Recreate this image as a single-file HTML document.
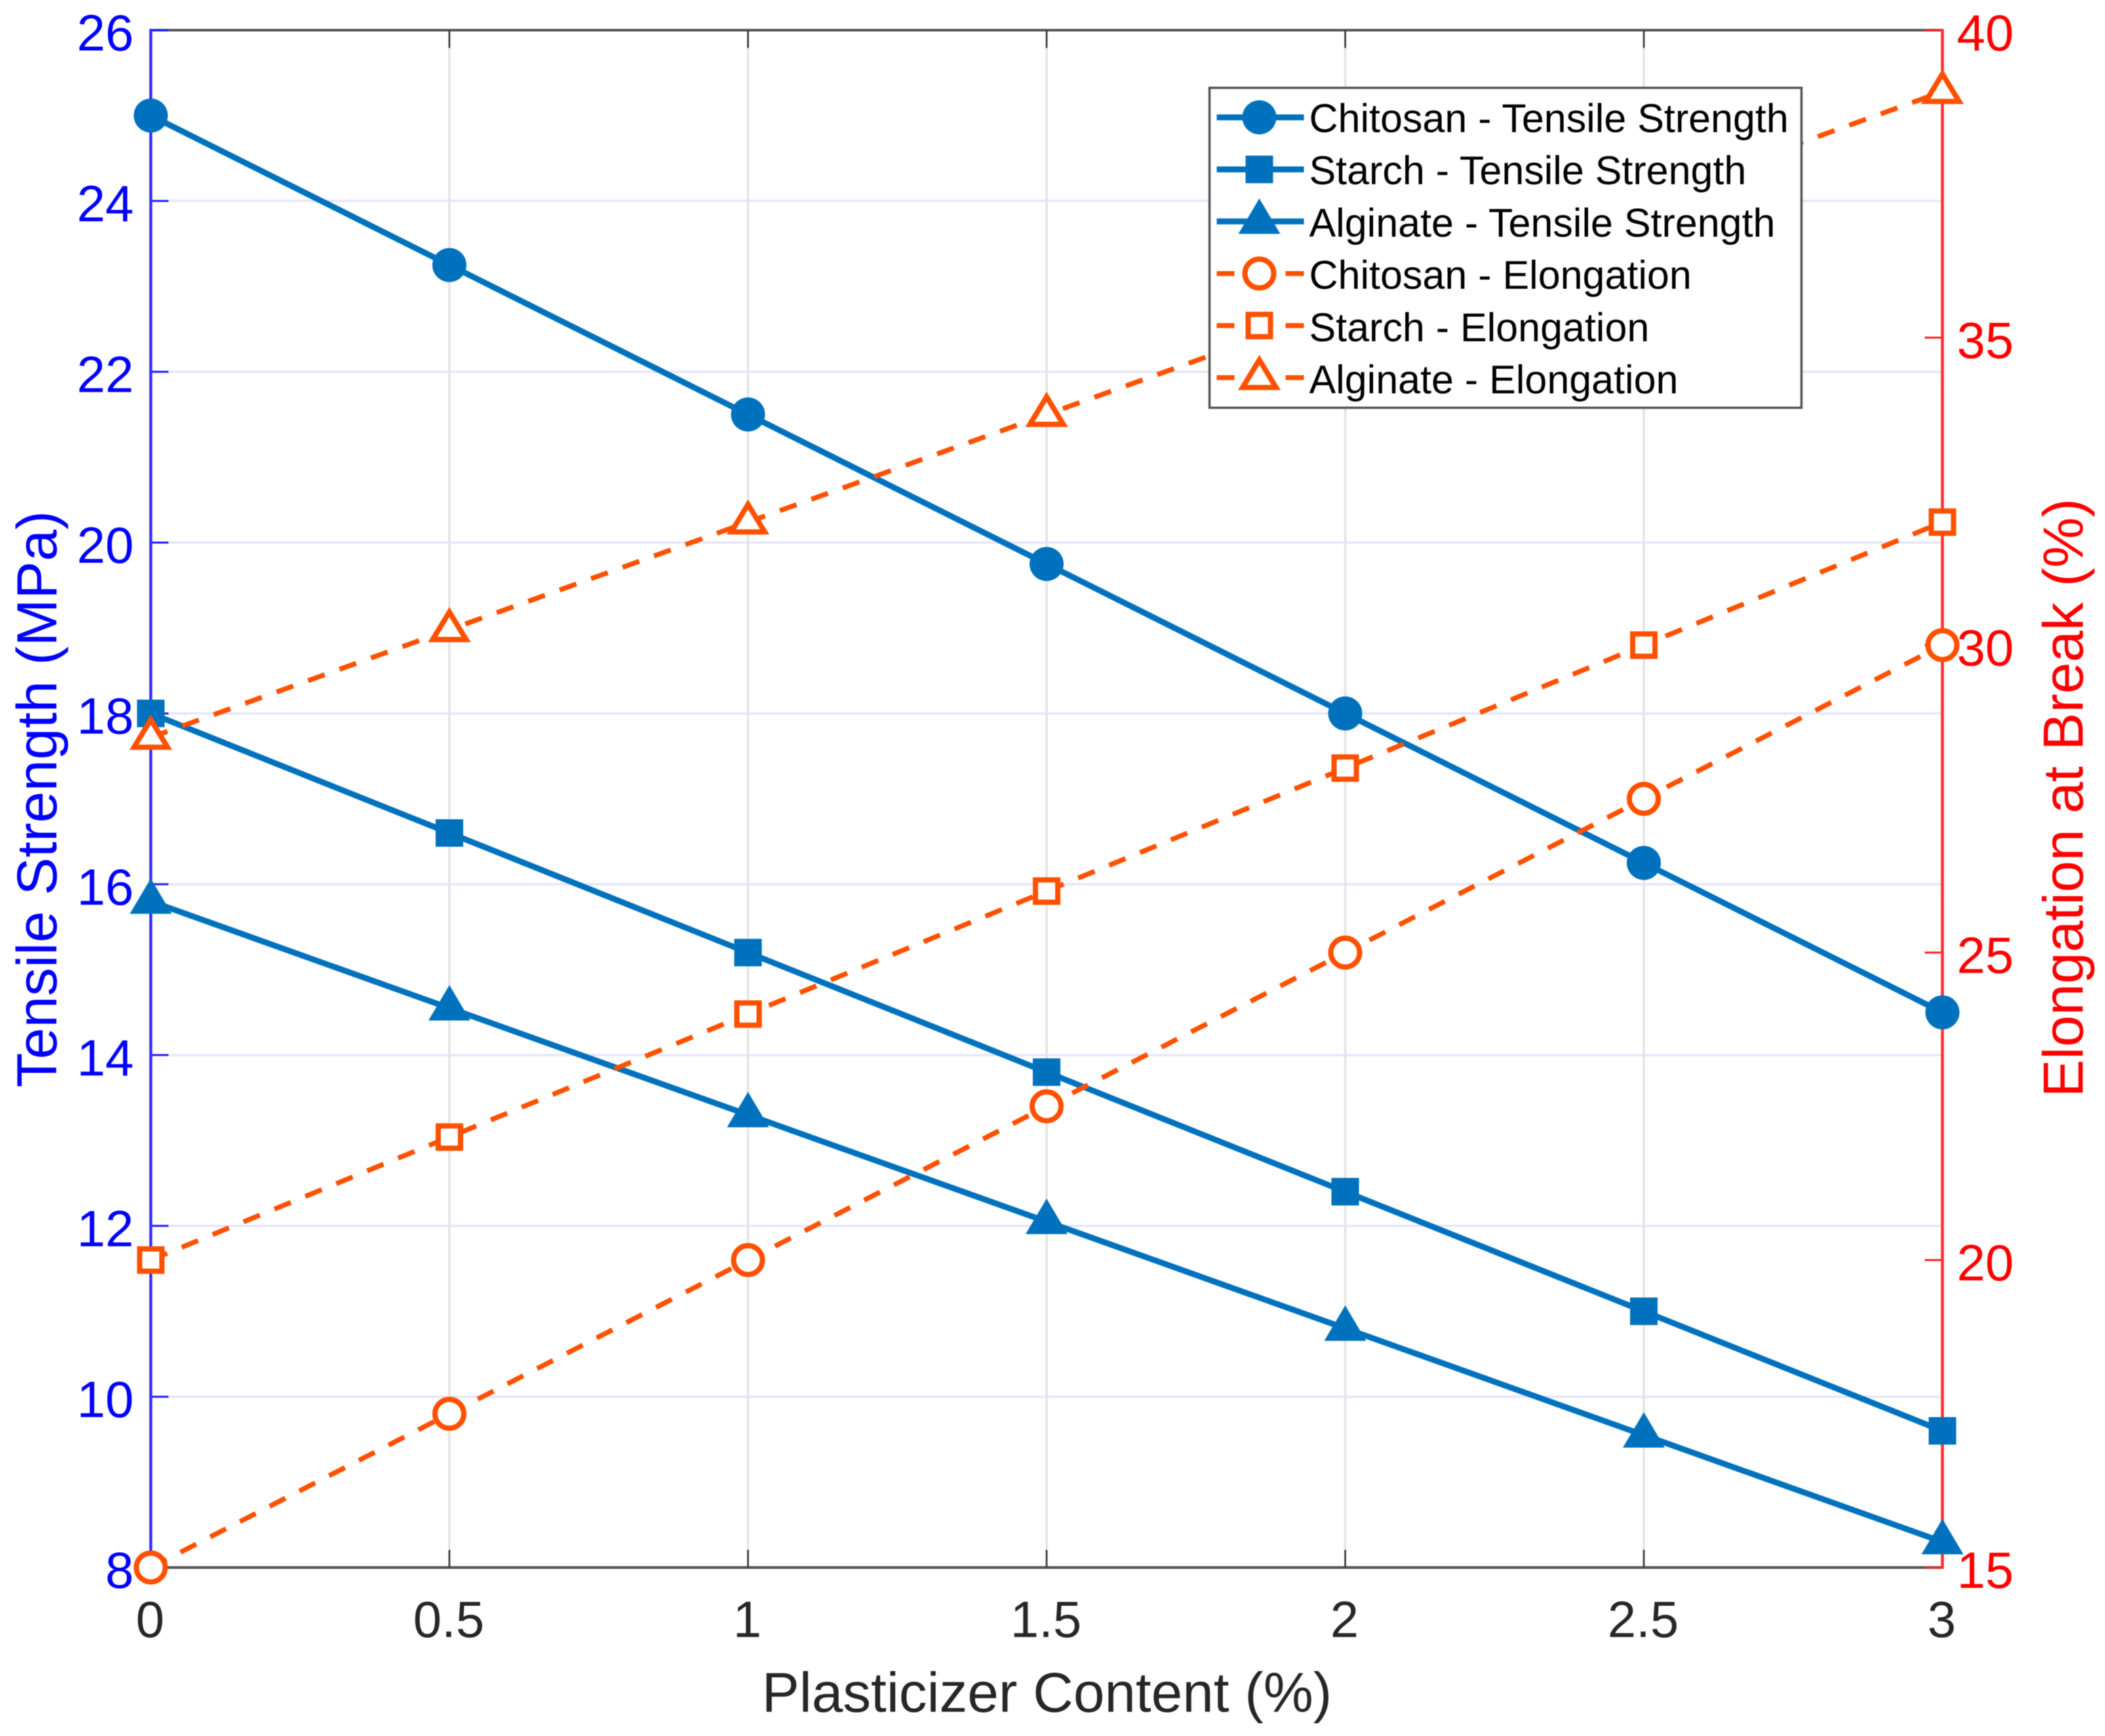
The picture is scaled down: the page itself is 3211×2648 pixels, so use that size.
<!DOCTYPE html>
<html lang="en">
<head>
<meta charset="utf-8">
<title>Tensile Strength and Elongation vs Plasticizer Content</title>
<style>
  html, body { margin: 0; padding: 0; background: #fff; }
  body { width: 3211px; height: 2648px; overflow: hidden; }
  svg { display: block; filter: blur(0.8px); }
  text { font-family: "Liberation Sans", Arial, sans-serif; }
</style>
</head>
<body>
<svg id="chart" xmlns="http://www.w3.org/2000/svg" width="3211" height="2648" viewBox="0 0 3211 2648">
  <rect x="0" y="0" width="3211" height="2648" fill="#ffffff"/>
  <g id="grid"></g>
  <g id="axes"></g>
  <g id="series-left"></g>
  <g id="series-right"></g>
  <g id="legend"></g>
</svg>
<script>
// ---- Data ----
const plasticizerContent = [0, 0.5, 1, 1.5, 2, 2.5, 3];
const chitosanTensile = [25, 23.25, 21.5, 19.75, 18, 16.25, 14.5];
const starchTensile = [18, 16.6, 15.2, 13.8, 12.4, 11, 9.6];
const alginateTensile = [15.8, 14.55, 13.3, 12.05, 10.8, 9.55, 8.3];
const chitosanElongation = [15, 17.5, 20, 22.5, 25, 27.5, 30];
const starchElongation = [20, 22, 24, 26, 28, 30, 32];
const alginateElongation = [28.5, 30.25, 32, 33.75, 35.5, 37.25, 39];
const xTickValues = [0, 0.5, 1, 1.5, 2, 2.5, 3];
const xTickLabels = ['0', '0.5', '1', '1.5', '2', '2.5', '3'];
const leftTickValues = [8, 10, 12, 14, 16, 18, 20, 22, 24, 26];
const leftTickLabels = ['8', '10', '12', '14', '16', '18', '20', '22', '24', '26'];
const rightTickValues = [15, 20, 25, 30, 35, 40];
const rightTickLabels = ['15', '20', '25', '30', '35', '40'];
const legendLabels = [
  'Chitosan - Tensile Strength',
  'Starch - Tensile Strength',
  'Alginate - Tensile Strength',
  'Chitosan - Elongation',
  'Starch - Elongation',
  'Alginate - Elongation'
];

// ---- Layout and axis functions ----
const NS = 'http://www.w3.org/2000/svg';
const plot = { left: 230, right: 2963, top: 46, bottom: 2391 };
const xDomain = [0, 3];
const leftDomain = [8, 26];
const rightDomain = [15, 40];
const BLUE = '#0072BD';
const ORANGE = '#FF5000';

function xScale(v) {
  return plot.left + (v - xDomain[0]) / (xDomain[1] - xDomain[0]) * (plot.right - plot.left);
}
function yLeft(v) {
  return plot.bottom - (v - leftDomain[0]) / (leftDomain[1] - leftDomain[0]) * (plot.bottom - plot.top);
}
function yRight(v) {
  return plot.bottom - (v - rightDomain[0]) / (rightDomain[1] - rightDomain[0]) * (plot.bottom - plot.top);
}
function el(tag, attrs, parent, content) {
  const node = document.createElementNS(NS, tag);
  for (const k in attrs) node.setAttribute(k, attrs[k]);
  if (content !== undefined) node.textContent = content;
  parent.appendChild(node);
  return node;
}
function drawMarker(parent, shape, filled, cx, cy, color, name) {
  const fill = filled ? color : '#ffffff';
  const sw = filled ? 0 : 8;
  let m;
  if (shape === 'circle') {
    m = el('circle', { cx: cx, cy: cy, r: filled ? 26 : 22, fill: fill, stroke: color, 'stroke-width': sw }, parent);
  } else if (shape === 'square') {
    const h = filled ? 21 : 17;
    m = el('rect', { x: cx - h, y: cy - h, width: 2 * h, height: 2 * h, fill: fill, stroke: color, 'stroke-width': sw }, parent);
  } else {
    const up = filled ? 35 : 27;
    const down = filled ? 19 : 15;
    const half = filled ? 32 : 25.5;
    const pts = (cx) + ',' + (cy - up) + ' ' + (cx + half) + ',' + (cy + down) + ' ' + (cx - half) + ',' + (cy + down);
    m = el('polygon', { points: pts, fill: fill, stroke: color, 'stroke-width': sw, 'stroke-linejoin': 'miter' }, parent);
  }
  
  
  return m;
}

// ---- Grid ----
const gridG = document.getElementById('grid');
leftTickValues.forEach(function (v) {
  if (v === leftDomain[0] || v === leftDomain[1]) return;
  const line = el('line', { x1: plot.left, x2: plot.right, y1: yLeft(v), y2: yLeft(v), stroke: '#E6E6FF', 'stroke-width': 3.5 }, gridG);
  
  
});
xTickValues.forEach(function (v) {
  if (v === xDomain[0] || v === xDomain[1]) return;
  const line = el('line', { x1: xScale(v), x2: xScale(v), y1: plot.top, y2: plot.bottom, stroke: '#E4E4E4', 'stroke-width': 3.5 }, gridG);
  
  
});

// ---- Axes ----
const axesG = document.getElementById('axes');
const topLine = el('line', { x1: plot.left, x2: plot.right, y1: plot.top, y2: plot.top, stroke: '#555555', 'stroke-width': 4 }, axesG);


const bottomLine = el('line', { x1: plot.left, x2: plot.right, y1: plot.bottom, y2: plot.bottom, stroke: '#555555', 'stroke-width': 4 }, axesG);



xTickValues.forEach(function (v, i) {
  const top = el('line', { x1: xScale(v), x2: xScale(v), y1: plot.top, y2: plot.top + 27, stroke: '#333333', 'stroke-width': 2.5 }, axesG);
  
  
  const bottom = el('line', { x1: xScale(v), x2: xScale(v), y1: plot.bottom, y2: plot.bottom - 27, stroke: '#333333', 'stroke-width': 2.5 }, axesG);
  
  
  const label = el('text', { x: xScale(v) - 1, y: 2497, 'text-anchor': 'middle', 'font-size': 78, fill: '#262626' }, axesG, xTickLabels[i]);
  
  
});

leftTickValues.forEach(function (v, i) {
  const tick = el('line', { x1: plot.left, x2: plot.left + 27, y1: yLeft(v), y2: yLeft(v), stroke: '#2020FF', 'stroke-width': 3 }, axesG);
  
  
  const label = el('text', { x: 204, y: yLeft(v) + 31, 'text-anchor': 'end', 'font-size': 78, fill: '#0000FF' }, axesG, leftTickLabels[i]);
  
  
});
rightTickValues.forEach(function (v, i) {
  const tick = el('line', { x1: plot.right, x2: plot.right - 27, y1: yRight(v), y2: yRight(v), stroke: '#FF2020', 'stroke-width': 3 }, axesG);
  
  
  const label = el('text', { x: 2985, y: yRight(v) + 31, 'text-anchor': 'start', 'font-size': 78, fill: '#FF0000' }, axesG, rightTickLabels[i]);
  
  
});

const leftAxis = el('line', { x1: plot.left, x2: plot.left, y1: plot.top - 2, y2: plot.bottom + 2, stroke: '#2F2FFF', 'stroke-width': 4.5 }, axesG);


const rightAxis = el('line', { x1: plot.right, x2: plot.right, y1: plot.top - 2, y2: plot.bottom + 2, stroke: '#FF3030', 'stroke-width': 4.5 }, axesG);



const xTitle = el('text', { x: 1597, y: 2611, 'text-anchor': 'middle', 'font-size': 85.5, fill: '#262626' }, axesG, 'Plasticizer Content (%)');


const yTitleLeft = el('text', { x: 0, y: 0, transform: 'translate(86 1219) rotate(-90)', 'text-anchor': 'middle', 'font-size': 86.5, fill: '#0000FF' }, axesG, 'Tensile Strength (MPa)');


const yTitleRight = el('text', { x: 0, y: 0, transform: 'translate(3177 1217) rotate(-90)', 'text-anchor': 'middle', 'font-size': 86.5, fill: '#FF0000' }, axesG, 'Elongation at Break (%)');



// ---- Series ----
function drawSeries(parent, values, yFn, shape, filled, color, name) {
  const g = el('g', {}, parent);
  
  
  const pts = values.map(function (v, i) { return xScale(plasticizerContent[i]) + ',' + yFn(v); }).join(' ');
  const attrs = { points: pts, fill: 'none', stroke: color, 'stroke-width': filled ? 9 : 7.5 };
  if (!filled) attrs['stroke-dasharray'] = '27 24';
  const line = el('polyline', attrs, g);
  
  
  values.forEach(function (v, i) {
    drawMarker(g, shape, filled, xScale(plasticizerContent[i]), yFn(v), color, name + '-point-' + plasticizerContent[i]);
  });
}
const leftG = document.getElementById('series-left');
const rightG = document.getElementById('series-right');
drawSeries(leftG, chitosanTensile, yLeft, 'circle', true, BLUE, 'chitosan-tensile');
drawSeries(leftG, starchTensile, yLeft, 'square', true, BLUE, 'starch-tensile');
drawSeries(leftG, alginateTensile, yLeft, 'triangle', true, BLUE, 'alginate-tensile');
drawSeries(rightG, chitosanElongation, yRight, 'circle', false, ORANGE, 'chitosan-elongation');
drawSeries(rightG, starchElongation, yRight, 'square', false, ORANGE, 'starch-elongation');
drawSeries(rightG, alginateElongation, yRight, 'triangle', false, ORANGE, 'alginate-elongation');

// ---- Legend ----
const legendG = document.getElementById('legend');
const legendBox = el('rect', { x: 1845, y: 134, width: 903, height: 488, fill: '#ffffff', stroke: '#555555', 'stroke-width': 3.5 }, legendG);


const legendShapes = ['circle', 'square', 'triangle', 'circle', 'square', 'triangle'];
legendLabels.forEach(function (text, i) {
  const filled = i < 3;
  const color = filled ? BLUE : ORANGE;
  const rowY = 179 + 79.4 * i;
  const row = el('g', {}, legendG);
  
  
  const a = { x1: 1856, x2: 1989, y1: rowY, y2: rowY, stroke: color, 'stroke-width': filled ? 9 : 7.5 };
  if (!filled) a['stroke-dasharray'] = '27 78 28';
  const sample = el('line', a, row);
  
  
  drawMarker(row, legendShapes[i], filled, 1921, rowY, color, 'legend-marker-' + (i + 1));
  const label = el('text', { x: 1997, y: 201.5 + 79.7 * i, 'font-size': 61, fill: '#000000' }, row, text);
  
  
});
</script>
</body>
</html>
